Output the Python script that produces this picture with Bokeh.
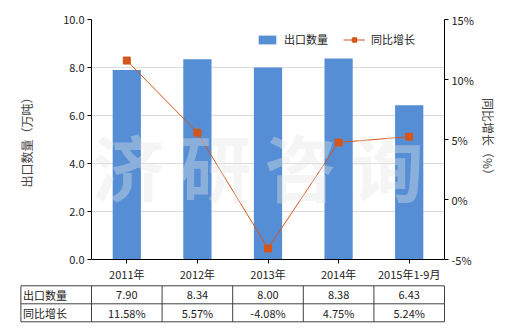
from bokeh.plotting import figure
from bokeh.models import (FactorRange, Range1d, LinearAxis, FixedTicker, PrintfTickFormatter,
                          NumeralTickFormatter, Legend, LegendItem, Label)
from bokeh.layouts import column
from bokeh.embed import file_html
from bokeh.resources import INLINE
from bokeh.core.properties import value

categories = ["2011年", "2012年", "2013年", "2014年", "2015年1-9月"]
export_qty = [7.90, 8.34, 8.00, 8.38, 6.43]
yoy_growth = [11.58, 5.57, -4.08, 4.75, 5.24]
row_names = ["出口数量", "同比增长"]
qty_labels = ["7.90", "8.34", "8.00", "8.38", "6.43"]
yoy_labels = ["11.58%", "5.57%", "-4.08%", "4.75%", "5.24%"]
left_ticks = [0, 2, 4, 6, 8, 10]
right_ticks = [-5, 0, 5, 10, 15]

FONT = "Noto Sans CJK SC"
BAR = "#558ed5"
LINE = "#d3561b"

p = figure(width=520, height=284, x_range=FactorRange(*categories, range_padding=0),
           y_range=Range1d(0, 10), output_backend="svg", toolbar_location=None,
           min_border_left=91, min_border_right=76, min_border_top=19, min_border_bottom=25)
p.frame_align = False
p.outline_line_color = None
p.background_fill_color = "white"
p.border_fill_color = "white"
p.xgrid.grid_line_color = None
p.ygrid.grid_line_color = "#dcdcdc"
p.ygrid.ticker = FixedTicker(ticks=left_ticks)

p.extra_y_ranges = {"pct": Range1d(-5, 15)}

bars = p.vbar(x=categories, top=export_qty, width=0.4, color=BAR, line_color=None)
ln = p.line(x=categories, y=yoy_growth, y_range_name="pct", line_color=LINE, line_width=1)
mk = p.scatter(x=categories, y=yoy_growth, y_range_name="pct", marker="square", size=7,
               fill_color=LINE, line_color=LINE)

for ax in [p.xaxis[0], p.yaxis[0]]:
    ax.axis_line_color = "black"
    ax.major_tick_line_color = "black"
    ax.minor_tick_line_color = None
    ax.major_tick_in = 0
    ax.major_tick_out = 4
    ax.major_label_text_font = FONT
    ax.major_label_text_font_size = "11px"
    ax.major_label_text_color = "#222222"
    ax.axis_label_text_font = FONT
    ax.axis_label_text_font_size = "12px"
    ax.axis_label_text_font_style = "normal"

p.xaxis[0].major_label_standoff = 2
p.yaxis[0].ticker = FixedTicker(ticks=left_ticks)
p.yaxis[0].formatter = NumeralTickFormatter(format="0.0")
p.yaxis[0].major_label_standoff = 3
p.yaxis[0].axis_label = "出口数量（万吨）"
p.yaxis[0].axis_label_standoff = 25

rax = LinearAxis(y_range_name="pct", ticker=FixedTicker(ticks=right_ticks),
                 formatter=PrintfTickFormatter(format="%d%%"))
rax.axis_line_color = "black"
rax.major_tick_line_color = "black"
rax.minor_tick_line_color = None
rax.major_tick_in = 0
rax.major_tick_out = 4
rax.major_label_standoff = 3
rax.major_label_text_font = FONT
rax.major_label_text_font_size = "11px"
rax.major_label_text_color = "#222222"
rax.axis_label = "同比增长（%）"
rax.axis_label_text_font = FONT
rax.axis_label_text_font_size = "12px"
rax.axis_label_text_font_style = "normal"
rax.axis_label_standoff = 3
p.add_layout(rax, "right")

legend = Legend(items=[LegendItem(label="出口数量", renderers=[bars]),
                       LegendItem(label="同比增长", renderers=[ln, mk])],
                orientation="horizontal", location=(165, 212),
                glyph_width=22, glyph_height=11, label_height=11, label_width=10,
                label_standoff=6, spacing=15, padding=0, margin=0,
                border_line_color=None, background_fill_alpha=0,
                label_text_font=FONT, label_text_font_size="11px", label_text_color="#222222")
p.add_layout(legend)

# watermark
for ch, sx in zip("济研咨询", [37, 124, 209, 296]):
    p.add_layout(Label(x=sx, y=95, x_units="screen", y_units="screen", text=ch,
                       text_align="center", text_baseline="middle",
                       text_font=FONT, text_font_size="72px", text_font_style="bold",
                       text_color="#e6e6e6", text_alpha=0.38))

# table
n = len(categories)
t = figure(width=520, height=46, x_range=Range1d(-91 / 70.6, 429 / 70.6),
           y_range=Range1d(-8.7 / 18, 2 + 1.3 / 18), output_backend="svg", toolbar_location=None,
           min_border=0, min_border_left=0, min_border_right=0, min_border_top=0, min_border_bottom=0)
t.frame_align = False
t.axis.visible = False
t.grid.visible = False
t.outline_line_color = None
t.border_fill_color = "white"

xs_h = [[-1, n], [-1, n], [-1, n]]
ys_h = [[0, 0], [1, 1], [2, 2]]
xs_v = [[c, c] for c in range(-1, n + 1)]
ys_v = [[0, 2] for _ in range(-1, n + 1)]
t.multi_line(xs=xs_h + xs_v, ys=ys_h + ys_v, line_color="#404040", line_width=1)

t.text(x=[-0.97, -0.97], y=[1.5, 0.5], text=row_names, text_align="left", text_baseline="middle",
       text_font=value(FONT), text_font_size="11px", text_color="#222222")
centers = [i + 0.5 for i in range(n)]
t.text(x=centers, y=[1.5] * n, text=qty_labels, text_align="center", text_baseline="middle",
       text_font=value(FONT), text_font_size="11px", text_color="#222222")
t.text(x=centers, y=[0.5] * n, text=yoy_labels, text_align="center", text_baseline="middle",
       text_font=value(FONT), text_font_size="11px", text_color="#222222")

layout = column(p, t, spacing=0)
open("out.html", "w").write(file_html(layout, INLINE))
